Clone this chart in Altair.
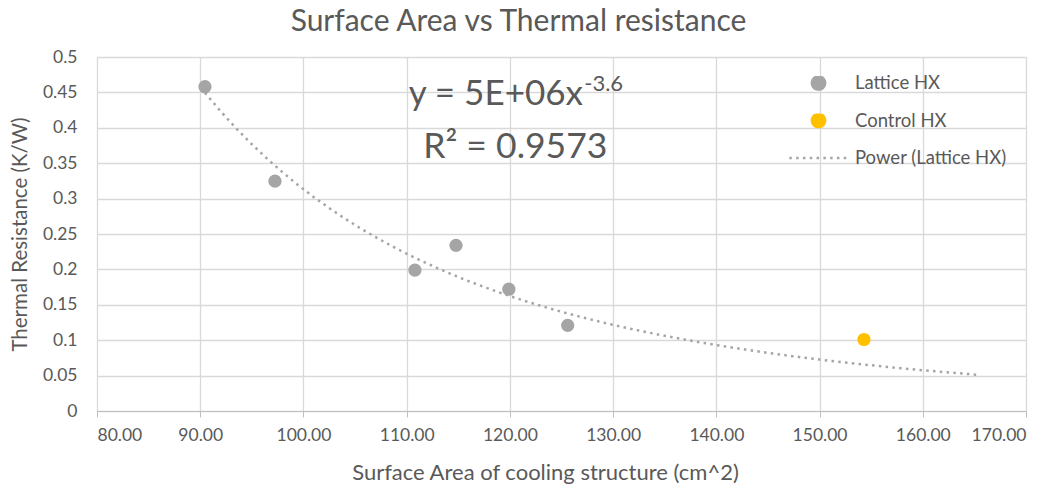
import altair as alt
import pandas as pd

# ---------------- data ----------------
lattice_area = [90.46, 97.24, 110.80, 114.78, 119.90, 125.60]
lattice_res = [0.458, 0.3246, 0.199, 0.234, 0.172, 0.121]
control_area = [154.30]
control_res = [0.101]

series_names = ["Lattice HX", "Control HX", "Power (Lattice HX)"]
series_colors = ["#A5A5A5", "#FFC000", "#A5A5A5"]
series_shapes = ["circle", "circle", "stroke"]
series_sizes = [175, 175, 3400]
series_dashes = [[1, 0], [1, 0], [2.5, 4.3]]

trend_extent = [90.46, 165.35]

x_ticks = [80, 90, 100, 110, 120, 130, 140, 150, 160, 170]
y_ticks = [0, 0.05, 0.1, 0.15, 0.2, 0.25, 0.3, 0.35, 0.4, 0.45, 0.5]

eq_main = ["y = 5E+06x"]
eq_exp = ["-3.6"]
eq_r2 = ["R² = 0.9573"]

# annotation anchor points (data coordinates)
eq_main_pos = [127.08, 0.432]
eq_exp_pos = [127.2, 0.452]
eq_r2_pos = [111.6, 0.357]

TXT = "#595959"
FONT = "Lato"

points = pd.DataFrame({
    "area": lattice_area + control_area,
    "res": lattice_res + control_res,
    "series": [series_names[0]] * len(lattice_area) + [series_names[1]] * len(control_area),
})

x_scale = alt.Scale(domain=[x_ticks[0], x_ticks[-1]], nice=False, zero=False)
y_scale = alt.Scale(domain=[y_ticks[0], y_ticks[-1]], nice=False)

x_axis = alt.Axis(values=x_ticks, format=".2f", title="Surface Area of cooling structure (cm^2)",
                  grid=True, domain=True, ticks=True, tickSize=6, domainColor="#BFBFBF",
                  tickColor="#BFBFBF", labelPadding=9, titlePadding=19, titleX=448,
                  titleFontSize=22)
y_axis = alt.Axis(values=y_ticks, format="~g", title="Thermal Resistance (K/W)",
                  grid=True, domain=False, ticks=False, labelPadding=20, titlePadding=12,
                  titleFontSize=20.5)

color_scale = alt.Scale(domain=series_names, range=series_colors)
legend = alt.Legend(title=None, orient="none", legendX=691, legendY=19, direction="vertical",
                    columns=1, clipHeight=14, rowPadding=18.5, labelOffset=6, padding=0,
                    labelFont=FONT, labelFontSize=18.5, labelColor=TXT,
                    symbolStrokeWidth=2.5, symbolOpacity=1)

pts_layer = alt.Chart(points).mark_point(filled=True, opacity=1, strokeWidth=0).encode(
    x=alt.X("area:Q", scale=x_scale, axis=x_axis),
    y=alt.Y("res:Q", scale=y_scale, axis=y_axis),
    color=alt.Color("series:N", scale=color_scale, legend=legend),
    stroke=alt.Stroke("series:N", scale=color_scale, legend=legend),
    shape=alt.Shape("series:N", scale=alt.Scale(domain=series_names, range=series_shapes), legend=legend),
    size=alt.Size("series:N", scale=alt.Scale(type="ordinal", domain=series_names, range=series_sizes), legend=legend),
)

trend_layer = alt.Chart(points).transform_filter(
    alt.datum.series == series_names[0]
).transform_regression(
    "area", "res", method="pow", extent=trend_extent
).transform_calculate(
    series="'" + series_names[2] + "'"
).mark_line(color="#A5A5A5", strokeWidth=2.5, strokeCap="butt").encode(
    x=alt.X("area:Q", scale=x_scale, axis=x_axis),
    y=alt.Y("res:Q", scale=y_scale, axis=y_axis),
    strokeDash=alt.StrokeDash("series:N", scale=alt.Scale(domain=series_names, range=series_dashes), legend=legend),
)

def txt(values, pos, size, align):
    df = pd.DataFrame({"area": [pos[0]], "res": [pos[1]], "label": values})
    return alt.Chart(df).mark_text(font=FONT, fontSize=size, color=TXT, align=align,
                                   baseline="alphabetic").encode(
        x=alt.X("area:Q", scale=x_scale, axis=x_axis),
        y=alt.Y("res:Q", scale=y_scale, axis=y_axis),
        text="label:N",
    )

chart = alt.layer(
    trend_layer,
    pts_layer,
    txt(eq_main, eq_main_pos, 35, "right"),
    txt(eq_exp, eq_exp_pos, 22, "left"),
    txt(eq_r2, eq_r2_pos, 35.5, "left"),
).properties(
    width=929,
    height=354,
    title=alt.TitleParams("Surface Area vs Thermal resistance", font=FONT, fontSize=30,
                          fontWeight="normal", color=TXT, anchor="middle", offset=11, dx=-43),
    autosize=alt.AutoSizeParams(type="none"),
    padding={"left": 97, "top": 57, "right": 34, "bottom": 80},
    background="white",
).configure_view(stroke=None).configure_axis(
    gridColor="#D9D9D9", gridWidth=1.3, labelColor=TXT, titleColor=TXT,
    labelFont=FONT, titleFont=FONT, labelFontSize=17.5, titleFontWeight="normal",
)

chart.save("out.html", embed_options={"renderer": "svg", "actions": False})
